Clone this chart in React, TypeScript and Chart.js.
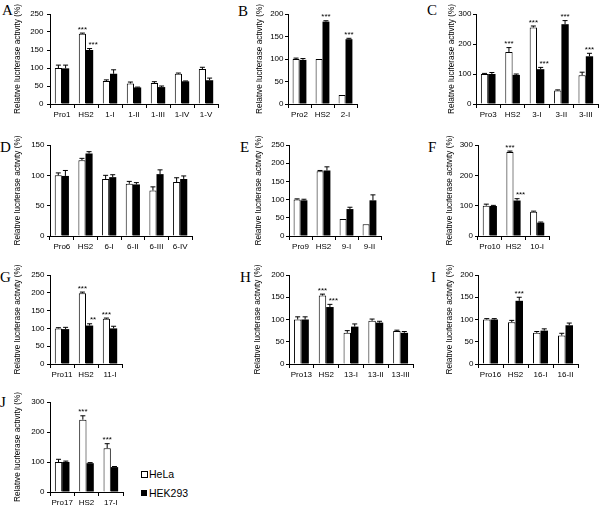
import React, { useEffect, useRef } from "react";
import { Chart, registerables } from "chart.js";

Chart.register(...registerables);

const FONT = "'Liberation Sans', Arial, Helvetica, sans-serif";
const SERIF = "'Liberation Serif', 'Times New Roman', serif";
const Y_TITLE = "Relative luciferase activity (%)";
const SERIES = ["HeLa", "HEK293"];

// ---------- Data ----------
const catsA = ["Pro1", "HS2", "1-I", "1-II", "1-III", "1-IV", "1-V"];
const helaA = [100, 195, 64, 57, 58, 84, 97];
const helaErrA = [8, 2, 3, 4, 4, 2, 5];
const hekA = [99, 150, 84, 46, 47, 63, 66];
const hekErrA = [9, 4, 11, 1, 3, 1, 6];
const helaStarsA = ["", "***", "", "", "", "", ""];
const hekStarsA = ["", "***", "", "", "", "", ""];

const catsB = ["Pro2", "HS2", "2-I"];
const helaB = [100, 100, 20];
const helaErrB = [2, 0, 0];
const hekB = [98, 183, 144];
const hekErrB = [3, 2, 2];
const helaStarsB = ["", "", ""];
const hekStarsB = ["", "***", "***"];

const catsC = ["Pro3", "HS2", "3-I", "3-II", "3-III"];
const helaC = [100, 173, 255, 45, 96];
const helaErrC = [2, 15, 5, 2, 10];
const hekC = [100, 97, 116, 266, 159];
const hekErrC = [5, 3, 6, 12, 10];
const helaStarsC = ["", "***", "***", "", ""];
const hekStarsC = ["", "", "***", "***", "***"];

const catsD = ["Pro6", "HS2", "6-I", "6-II", "6-III", "6-IV"];
const helaD = [100, 125, 94, 86, 75, 89];
const helaErrD = [4, 3, 6, 4, 6, 7];
const hekD = [99, 136, 97, 85, 102, 94];
const hekErrD = [9, 3, 4, 3, 7, 5];
const helaStarsD = ["", "", "", "", "", ""];
const hekStarsD = ["", "", "", "", "", ""];

const catsE = ["Pro9", "HS2", "9-I", "9-II"];
const helaE = [100, 178, 47, 32];
const helaErrE = [2, 2, 0, 0];
const hekE = [98, 180, 74, 98];
const hekErrE = [3, 10, 5, 15];
const helaStarsE = ["", "", "", ""];
const hekStarsE = ["", "", "", ""];

const catsF = ["Pro10", "HS2", "10-I"];
const helaF = [100, 277, 80];
const helaErrF = [5, 3, 2];
const hekF = [99, 117, 44];
const hekErrF = [2, 6, 2];
const helaStarsF = ["", "***", ""];
const hekStarsF = ["", "***", ""];

const catsG = ["Pro11", "HS2", "11-I"];
const helaG = [100, 199, 127];
const helaErrG = [2, 3, 2];
const hekG = [98, 108, 100];
const hekErrG = [5, 5, 6];
const helaStarsG = ["", "***", "***"];
const hekStarsG = ["", "**", ""];

const catsH = ["Pro13", "HS2", "13-I", "13-II", "13-III"];
const helaH = [100, 154, 70, 97, 74];
const helaErrH = [6, 3, 5, 4, 2];
const hekH = [100, 128, 84, 93, 70];
const hekErrH = [6, 6, 6, 3, 3];
const helaStarsH = ["", "***", "", "", ""];
const hekStarsH = ["", "***", "", "", ""];

const catsI = ["Pro16", "HS2", "16-I", "16-II"];
const helaI = [100, 94, 70, 64];
const helaErrI = [2, 4, 3, 5];
const hekI = [100, 142, 75, 87];
const hekErrI = [2, 8, 4, 5];
const helaStarsI = ["", "", "", ""];
const hekStarsI = ["", "***", "", ""];

const catsJ = ["Pro17", "HS2", "17-I"];
const helaJ = [100, 241, 146];
const helaErrJ = [9, 13, 15];
const hekJ = [100, 96, 83];
const hekErrJ = [3, 2, 2];
const helaStarsJ = ["", "***", "***"];
const hekStarsJ = ["", "", ""];

const yMaxes = [250, 200, 300, 150, 250, 300, 250, 200, 200, 300];
const ySteps = [50, 50, 100, 50, 50, 100, 50, 50, 50, 100];
const letters = ["A", "B", "C", "D", "E", "F", "G", "H", "I", "J"];

const panelData = [
  [catsA, helaA, helaErrA, hekA, hekErrA, helaStarsA, hekStarsA],
  [catsB, helaB, helaErrB, hekB, hekErrB, helaStarsB, hekStarsB],
  [catsC, helaC, helaErrC, hekC, hekErrC, helaStarsC, hekStarsC],
  [catsD, helaD, helaErrD, hekD, hekErrD, helaStarsD, hekStarsD],
  [catsE, helaE, helaErrE, hekE, hekErrE, helaStarsE, hekStarsE],
  [catsF, helaF, helaErrF, hekF, hekErrF, helaStarsF, hekStarsF],
  [catsG, helaG, helaErrG, hekG, hekErrG, helaStarsG, hekStarsG],
  [catsH, helaH, helaErrH, hekH, hekErrH, helaStarsH, hekStarsH],
  [catsI, helaI, helaErrI, hekI, hekErrI, helaStarsI, hekStarsI],
  [catsJ, helaJ, helaErrJ, hekJ, hekErrJ, helaStarsJ, hekStarsJ],
];

// ---------- Layout (pixel placement of each panel) ----------
// axisX, topY, zeroY, endX, titleX, tickPad, letterX, letterY
const layout = [
  [50, 14, 104, 218, 18, 3.5, 2, 6],
  [288, 14, 104, 357, 260, 1.5, 238, 7],
  [476, 14, 104, 598, 452, 1.5, 427, 6],
  [50, 145, 236, 192, 18, 2.5, 0, 143],
  [289, 145, 236, 381, 259, 1.5, 240, 143],
  [478, 145, 236, 549, 450, 2, 428, 143],
  [50, 275, 364, 122, 18, 2.5, 0, 273],
  [289, 275, 364, 413, 258, 1.5, 240, 273],
  [478, 275, 364, 578, 450, 1.5, 431, 273],
  [50, 402, 492, 123, 18, 2.5, 0, 398],
];

const PT = 14;
const XH = 16;
const PR = 2;
const TITLE_SIZE = 8.25;

const errorBarPlugin = {
  id: "errorBars",
  afterDatasetsDraw(chart: any) {
    const { ctx } = chart;
    const y = chart.scales.y;
    const dsArr = chart.data.datasets;
    dsArr.forEach((ds: any, di: number) => {
      const meta = chart.getDatasetMeta(di);
      meta.data.forEach((bar: any, i: number) => {
        const v = ds.data[i];
        const e = ds.errors[i];
        const yTop = y.getPixelForValue(v + e);
        const x = bar.x;
        ctx.save();
        ctx.strokeStyle = "#000";
        ctx.lineWidth = 1;
        if (e > 0) {
          ctx.beginPath();
          ctx.moveTo(x, bar.y);
          ctx.lineTo(x, yTop);
          ctx.moveTo(x - 2.5, yTop);
          ctx.lineTo(x + 2.5, yTop);
          ctx.stroke();
        }
        const s = ds.stars[i];
        if (s) {
          let dx = 0;
          if (di === 1 && dsArr[0].data[i] > v) dx = 3.5;
          ctx.fillStyle = "#000";
          ctx.font = `8px ${FONT}`;
          ctx.textAlign = "center";
          ctx.textBaseline = "alphabetic";
          ctx.fillText(s, x + dx, yTop - 1.5);
        }
        ctx.restore();
      });
    });
  },
};

function Panel({ idx }: { idx: number }) {
  const ref = useRef<HTMLCanvasElement>(null);
  const [cats, hela, helaErr, hek, hekErr, helaStars, hekStars] = panelData[idx] as any[];
  const [axisX, topY, zeroY, endX, titleX, tickPad] = layout[idx];
  const left = Math.round(titleX - TITLE_SIZE / 2);
  const top = topY - PT;
  const YW = axisX - left;
  const width = Math.round(endX - left + PR);
  const height = PT + (zeroY - topY) + XH;

  useEffect(() => {
    if (!ref.current) return;
    const chart = new Chart(ref.current, {
      type: "bar",
      data: {
        labels: cats,
        datasets: [
          {
            label: SERIES[0],
            data: hela,
            errors: helaErr,
            stars: helaStars,
            backgroundColor: "#ffffff",
            borderColor: "#000000",
            borderWidth: 1,
          } as any,
          {
            label: SERIES[1],
            data: hek,
            errors: hekErr,
            stars: hekStars,
            backgroundColor: "#000000",
            borderColor: "#000000",
            borderWidth: 0,
          } as any,
        ],
      },
      options: {
        animation: false,
        responsive: false,
        maintainAspectRatio: false,
        devicePixelRatio: 1,
        layout: { padding: { top: PT, right: PR, left: 0, bottom: 0 } },
        datasets: { bar: { categoryPercentage: 0.6, barPercentage: 1.0 } },
        plugins: {
          legend: { display: false },
          title: { display: false },
          tooltip: { enabled: false },
        },
        scales: {
          x: {
            type: "category",
            offset: true,
            grid: {
              display: true,
              drawOnChartArea: false,
              drawTicks: true,
              tickLength: 4,
              color: "#000",
              lineWidth: 1,
              offset: true,
            },
            border: { display: true, color: "#000", width: 1 },
            ticks: {
              autoSkip: false,
              maxRotation: 0,
              minRotation: 0,
              padding: 2,
              color: "#000",
              font: { family: FONT, size: 8 },
            },
            afterFit: (s: any) => {
              s.height = XH;
            },
          },
          y: {
            min: 0,
            max: yMaxes[idx],
            grid: {
              display: true,
              drawOnChartArea: false,
              drawTicks: true,
              tickLength: 3,
              color: "#000",
              lineWidth: 1,
            },
            border: { display: true, color: "#000", width: 1 },
            ticks: {
              stepSize: ySteps[idx],
              padding: tickPad,
              color: "#000",
              font: { family: FONT, size: 8 },
            },
            title: {
              display: true,
              text: Y_TITLE,
              color: "#000",
              padding: { top: 0, bottom: 0 },
              font: { family: FONT, size: TITLE_SIZE, lineHeight: 1 },
            },
            afterFit: (s: any) => {
              s.width = YW;
            },
          },
        },
      } as any,
      plugins: [errorBarPlugin],
    });
    return () => chart.destroy();
  }, []);

  return (
    <canvas
      ref={ref}
      width={width}
      height={height}
      style={{ position: "absolute", left, top, width, height }}
    />
  );
}

export default function App() {
  return (
    <div
      style={{
        position: "absolute",
        left: 0,
        top: 0,
        width: 600,
        height: 507,
        background: "#fff",
        overflow: "hidden",
      }}
    >
      {letters.map((L, i) => (
        <div
          key={"l" + L}
          style={{
            position: "absolute",
            left: layout[i][6],
            top: layout[i][7] - 2.6,
            fontFamily: SERIF,
            fontSize: 15,
            lineHeight: "15px",
            color: "#000",
          }}
        >
          {L}
        </div>
      ))}
      {letters.map((L, i) => (
        <Panel key={"p" + L} idx={i} />
      ))}
      <div
        style={{
          position: "absolute",
          left: 141,
          top: 471,
          width: 5,
          height: 5,
          border: "1px solid #000",
          background: "#fff",
        }}
      />
      <div
        style={{
          position: "absolute",
          left: 149,
          top: 469.4,
          fontFamily: FONT,
          fontSize: 10.5,
          lineHeight: "10.5px",
          color: "#000",
        }}
      >
        {SERIES[0]}
      </div>
      <div
        style={{
          position: "absolute",
          left: 141,
          top: 490,
          width: 6,
          height: 6,
          background: "#000",
        }}
      />
      <div
        style={{
          position: "absolute",
          left: 149,
          top: 487.8,
          fontFamily: FONT,
          fontSize: 10.5,
          lineHeight: "10.5px",
          color: "#000",
        }}
      >
        {SERIES[1]}
      </div>
    </div>
  );
}
